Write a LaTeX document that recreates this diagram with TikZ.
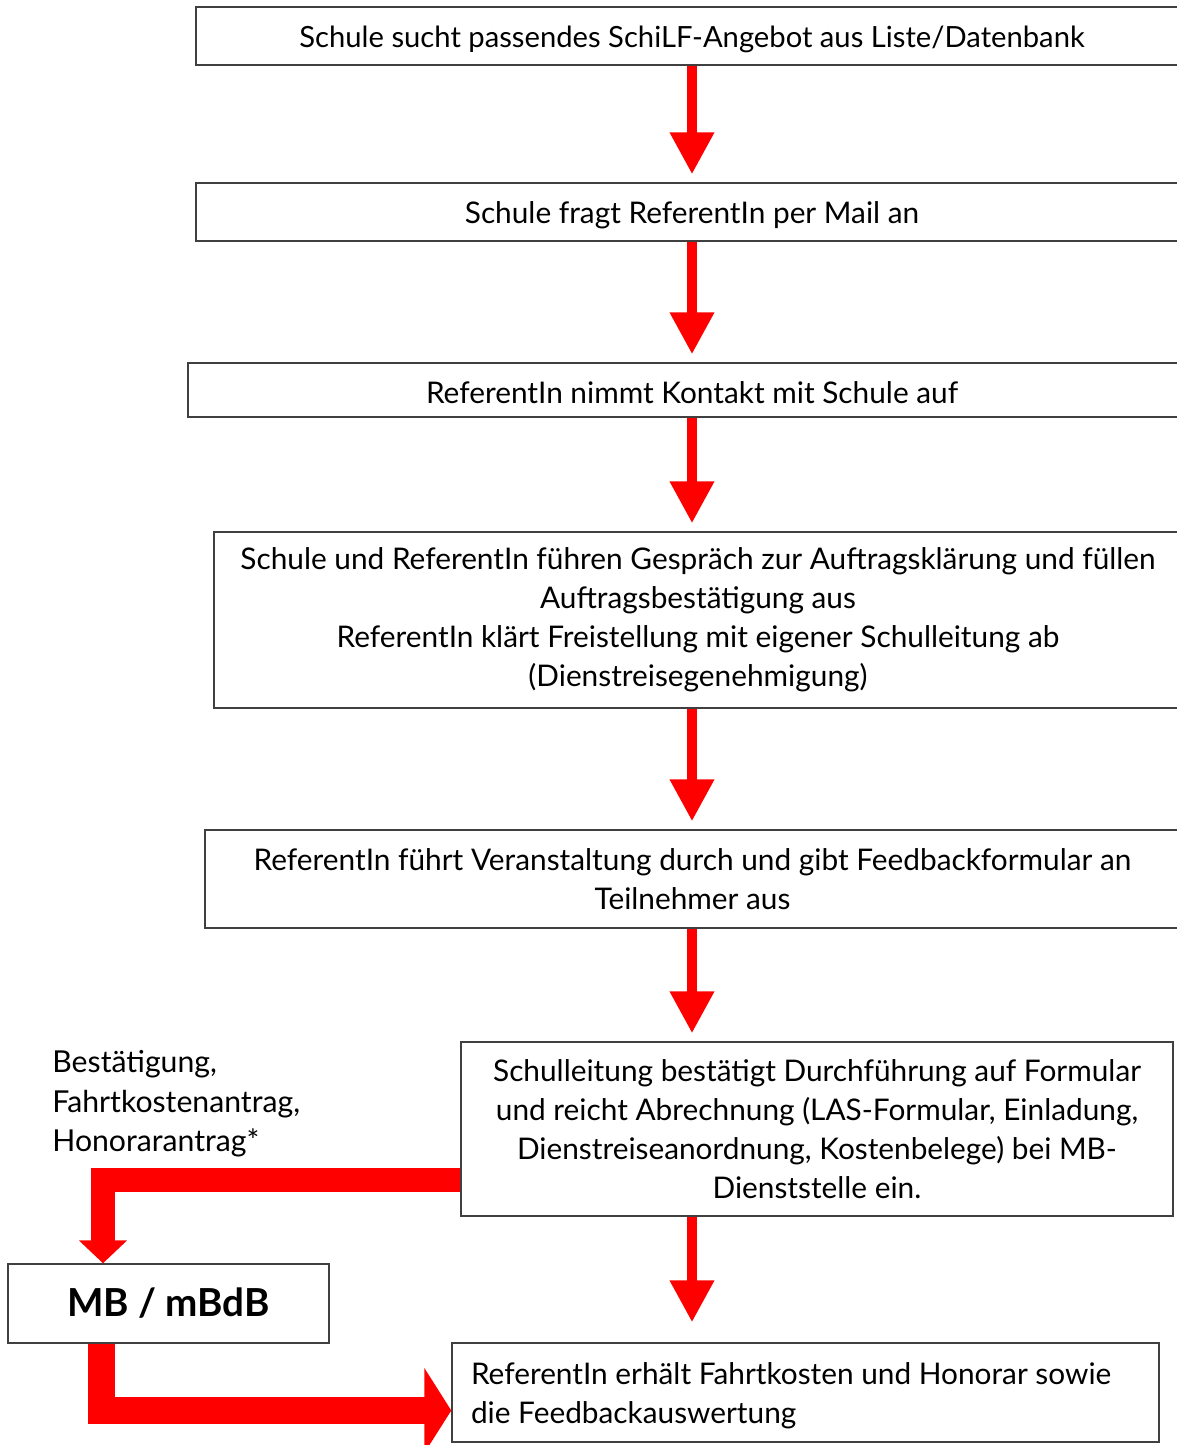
\documentclass[tikz,border=0pt]{standalone}
\usepackage{fontspec}
\setmainfont{Lato}
\usetikzlibrary{arrows.meta}
\tikzset{
stepbox/.style={draw=black!75, line width=0.7pt, align=center, inner sep=0pt, font=\fontsize{14.9}{19.5}\selectfont, execute at begin node={\rule{0pt}{14pt}}},
redarrow/.style={draw=red, line width=5pt, -{Triangle[length=21pt,width=21pt]}, shorten >=4pt},
bigarrow/.style={draw=red, line width=12pt, -{Triangle[length=11.5pt,width=23.5pt]}}
}
\begin{document}
\begin{tikzpicture}[x=0.5pt,y=-0.5pt]
\useasboundingbox (0,0) rectangle (1177,1445);
\clip (0,0) rectangle (1177,1445);
% steps
\node[stepbox, minimum width=496pt, minimum height=29pt, font=\fontsize{14.6}{19.5}\selectfont] (b1) at (692,36) {Schule sucht passendes SchiLF-Angebot aus Liste/Datenbank};
\node[stepbox, minimum width=496pt, minimum height=29pt] (b2) at (692,212) {Schule fragt ReferentIn per Mail an};
\node[stepbox, minimum width=504pt, minimum height=27pt] (b3) at (692,390) {ReferentIn nimmt Kontakt mit Schule auf};
\node[stepbox, minimum width=484pt, minimum height=88pt, execute at begin node={\rule{0pt}{18pt}}] (b4) at (698,620) {Schule und ReferentIn führen Gespräch zur Auftragsklärung und füllen\\Auftragsbestätigung aus\\ReferentIn klärt Freistellung mit eigener Schulleitung ab\\(Dienstreisegenehmigung)};
\node[stepbox, minimum width=487.5pt, minimum height=49pt, execute at begin node={\rule{0pt}{16pt}}] (b5) at (692.5,879) {ReferentIn führt Veranstaltung durch und gibt Feedbackformular an\\Teilnehmer aus};
\node[stepbox, minimum width=356pt, minimum height=87pt] (b6) at (817,1129) {Schulleitung bestätigt Durchführung auf Formular\\und reicht Abrechnung (LAS-Formular, Einladung,\\Dienstreiseanordnung, Kostenbelege) bei MB-\\Dienststelle ein.};
\node[stepbox, minimum width=353.5pt, minimum height=49.5pt, align=flush left, text width=334.5pt] (b7) at (805.5,1392.5) {ReferentIn erhält Fahrtkosten und Honorar sowie\\die Feedbackauswertung};
\node[stepbox, minimum width=160.5pt, minimum height=39.5pt, font=\fontsize{19.3}{24}\selectfont\bfseries, execute at begin node={}] (mb) at (168.5,1303.5) {MB / mBdB};
\node[anchor=west, align=left, inner sep=0pt, font=\fontsize{15.1}{19.7}\selectfont] (lbl) at (52,1104) {Bestätigung,\\Fahrtkostenantrag,\\Honorarantrag*};
% arrows
\coordinate (ax) at (692,0);
\foreach \a/\b in {b1/b2,b2/b3,b3/b4,b4/b5,b5/b6}
  \draw[redarrow] (\a.south -| ax) -- (\b.north -| ax);
\draw[redarrow, shorten >=10pt] (b6.south -| ax) -- (b7.north -| ax);
\coordinate (k1) at (103,1180);
\coordinate (k2) at (101.5,1410.5);
\draw[bigarrow] (b6.west |- k1) -| (mb.north -| k1);
\draw[draw=red, line width=13.5pt, -{Triangle[length=13.5pt,width=42pt]}] (mb.south -| k2) |- (b7.west |- k2);
\end{tikzpicture}
\end{document}
